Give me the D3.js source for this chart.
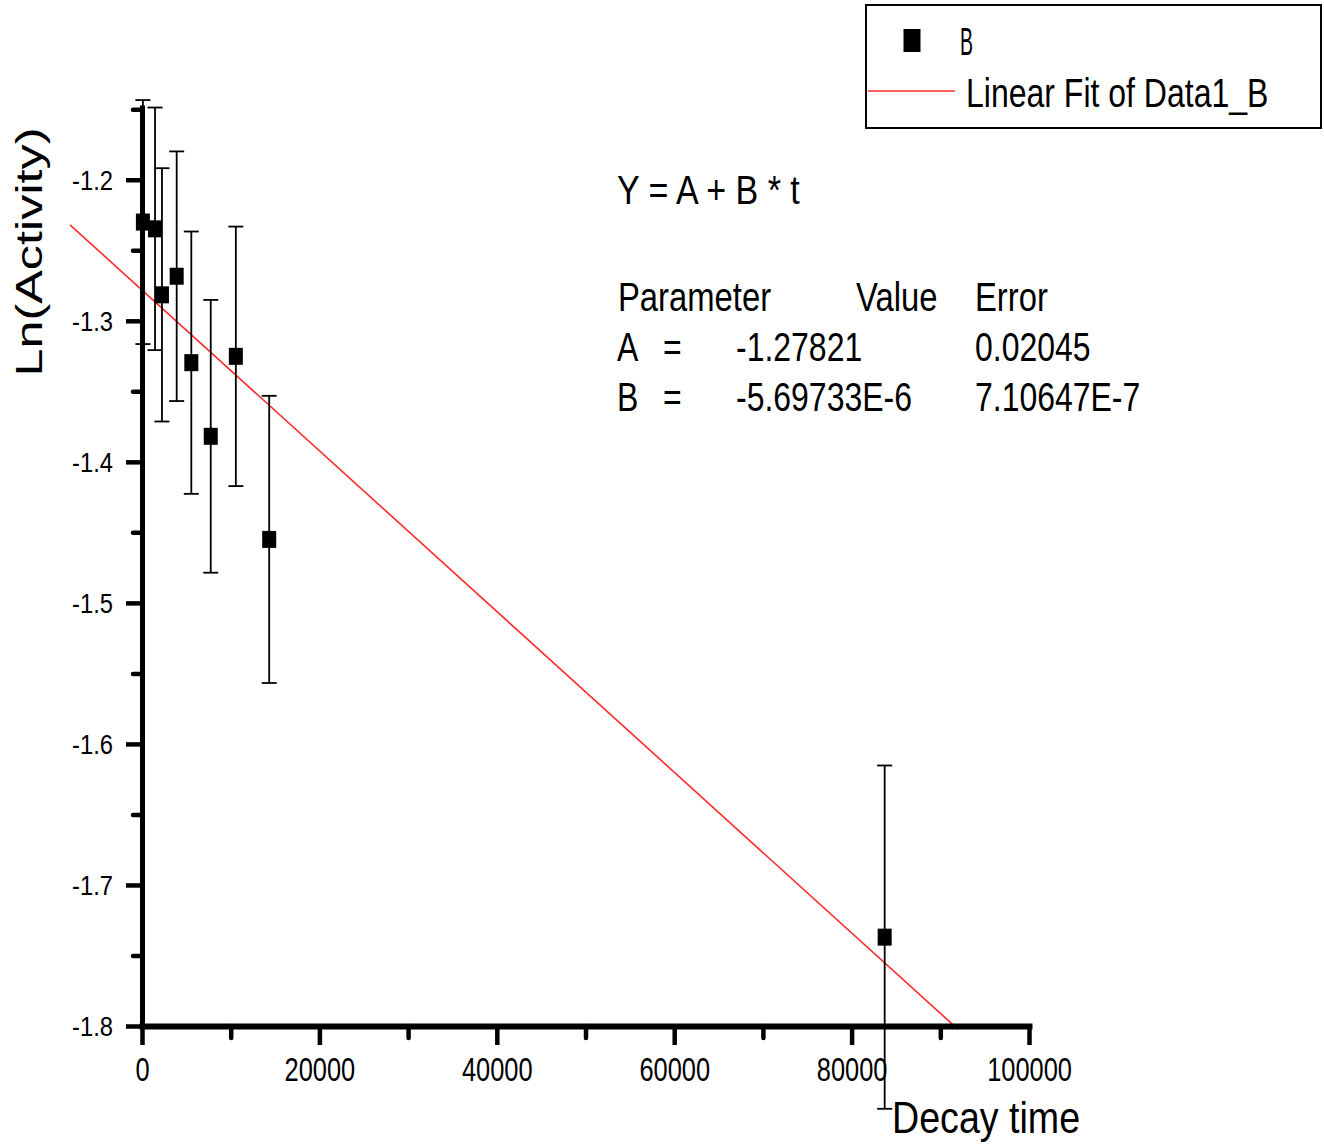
<!DOCTYPE html>
<html>
<head>
<meta charset="utf-8">
<script src="https://cdn.jsdelivr.net/npm/d3@7"></script>
<style>
  body { margin: 0; background: #fff; }
  svg { display: block; }
  text { font-family: "Liberation Sans", Arial, sans-serif; fill: #000; }
</style>
</head>
<body>
<svg id="chart" width="1324" height="1148"></svg>
<script>
// Measured decay series: time, ln(activity) and its uncertainty
const decayTime  = [100, 1470, 2250, 3910, 5560, 7750, 10580, 14340, 83730];
const lnActivity = [-1.2300, -1.2348, -1.2816, -1.2684, -1.3297, -1.3819, -1.3252, -1.4550, -1.7370];
const lnError    = [0.0865, 0.0860, 0.0898, 0.0885, 0.0930, 0.0967, 0.0920, 0.1018, 0.1217];

// Linear fit Y = A + B * t
const fitA = -1.27821;
const fitB = -5.69733E-6;
const fitRange = [-8120, 92000];

// Axis ticks
const xTickValues = [0, 20000, 40000, 60000, 80000, 100000];
const xMinorTicks = [10000, 30000, 50000, 70000, 90000];
const yTickValues = [-1.2, -1.3, -1.4, -1.5, -1.6, -1.7, -1.8];
const yTickLabels = ["-1.2", "-1.3", "-1.4", "-1.5", "-1.6", "-1.7", "-1.8"];
const yMinorTicks = [-1.15, -1.25, -1.35, -1.45, -1.55, -1.65, -1.75];

// Fit summary table
const equationText = "Y = A + B * t";
const paramHeader = ["Parameter", "Value", "Error"];
const paramRows = [
  ["A", "=", "-1.27821", "0.02045"],
  ["B", "=", "-5.69733E-6", "7.10647E-7"]
];
const legendLabels = ["B", "Linear Fit of Data1_B"];
const xTitle = "Decay time";
const yTitle = "Ln(Activity)";

const svg = d3.select("#chart");

const x = d3.scaleLinear().domain([0, 100000]).range([142, 1029]);
const y = d3.scaleLinear().domain([-1.8, -1.147]).range([1026, 105]);

// Condensed text helper: horizontal squeeze via scale
function label(g, str, tx, ty, size, sx, anchor) {
  return g.append("text")
    .attr("transform", `translate(${tx},${ty}) scale(${sx},1)`)
    .attr("font-size", size)
    .attr("text-anchor", anchor || "start")
    .text(str);
}

// ---- Fit line (drawn under the markers)
const fitLine = d3.line().x(d => x(d)).y(d => y(fitA + fitB * d));
svg.append("path")
  .attr("d", fitLine(fitRange))
  .attr("fill", "none")
  .attr("stroke", "#ff2a2a")
  .attr("stroke-width", 1.6);

// ---- Axes
const xAxisG = svg.append("g").attr("transform", `translate(0,${y(-1.8)})`);
xAxisG.call(d3.axisBottom(x).tickValues(xTickValues).tickSize(19).tickSizeOuter(0)
  .tickFormat(d3.format("d")));
xAxisG.select(".domain").attr("stroke-width", 6).attr("stroke-linecap", "square");
xAxisG.selectAll(".tick line").attr("stroke-width", 4.5);
xAxisG.selectAll(".tick text")
  .attr("y", 0).attr("dy", null)
  .attr("font-size", 33).attr("font-family", null)
  .attr("fill", "#000")
  .attr("transform", "translate(0,55) scale(0.77,1)");

const xMinorG = svg.append("g").attr("transform", `translate(0,${y(-1.8)})`);
xMinorG.call(d3.axisBottom(x).tickValues(xMinorTicks).tickSize(12).tickFormat(""));
xMinorG.select(".domain").remove();
xMinorG.selectAll(".tick line").attr("stroke-width", 4.5).attr("stroke-linecap", "round");

const yAxisG = svg.append("g").attr("transform", `translate(${x(0)},0)`);
yAxisG.call(d3.axisLeft(y).tickValues(yTickValues).tickSize(16).tickSizeOuter(0)
  .tickFormat((d, i) => yTickLabels[i]));
yAxisG.select(".domain").attr("stroke-width", 5);
yAxisG.selectAll(".tick line").attr("stroke-width", 4.5);
yAxisG.selectAll(".tick text")
  .attr("x", 0).attr("dy", null)
  .attr("font-size", 27).attr("font-family", null)
  .attr("fill", "#000")
  .attr("transform", "translate(-29,9.5) scale(0.88,1)");

const yMinorG = svg.append("g").attr("transform", `translate(${x(0)},0)`);
yMinorG.call(d3.axisLeft(y).tickValues(yMinorTicks).tickSize(9).tickFormat(""));
yMinorG.select(".domain").remove();
yMinorG.selectAll(".tick line").attr("stroke-width", 4.5).attr("stroke-linecap", "round");

// ---- Error bars and markers
const pts = decayTime.map((t, i) => ({ t, v: lnActivity[i], e: lnError[i] }));
const capW = 15;
const eb = svg.append("g").attr("stroke", "#000");
eb.selectAll("line.stem").data(pts).join("line")
  .attr("class", "stem")
  .attr("x1", d => x(d.t)).attr("x2", d => x(d.t))
  .attr("y1", d => y(d.v + d.e)).attr("y2", d => y(d.v - d.e))
  .attr("stroke-width", 1.8);
eb.selectAll("line.capTop").data(pts).join("line")
  .attr("class", "capTop")
  .attr("x1", d => x(d.t) - capW / 2).attr("x2", d => x(d.t) + capW / 2)
  .attr("y1", d => y(d.v + d.e)).attr("y2", d => y(d.v + d.e))
  .attr("stroke-width", 1.8);
eb.selectAll("line.capBot").data(pts).join("line")
  .attr("class", "capBot")
  .attr("x1", d => x(d.t) - capW / 2).attr("x2", d => x(d.t) + capW / 2)
  .attr("y1", d => y(d.v - d.e)).attr("y2", d => y(d.v - d.e))
  .attr("stroke-width", 1.8);

const mw = 14, mh = 17;
svg.append("g").selectAll("rect").data(pts).join("rect")
  .attr("x", d => x(d.t) - mw / 2)
  .attr("y", d => y(d.v) - mh / 2)
  .attr("width", mw).attr("height", mh)
  .attr("fill", "#000");

// ---- Axis titles
label(svg, xTitle, 892, 1133, 44, 0.855);
svg.append("text")
  .attr("transform", "translate(42,252) rotate(-90) scale(1.4,1)")
  .attr("font-size", 36)
  .attr("text-anchor", "middle")
  .text(yTitle);

// ---- Fit summary
const info = svg.append("g");
label(info, equationText, 617, 204, 41, 0.83);
const headerX = [618, 856, 975];
paramHeader.forEach((h, i) => label(info, h, headerX[i], 311, 41, 0.8));
const colX = [617, 663, 736, 975];
const rowY = [361, 411];
paramRows.forEach((row, r) => {
  row.forEach((cell, c) => label(info, cell, colX[c], rowY[r], 41, 0.78));
});

// ---- Legend
const lg = svg.append("g");
lg.append("rect")
  .attr("x", 866).attr("y", 5).attr("width", 455).attr("height", 123)
  .attr("fill", "#fff").attr("stroke", "#000").attr("stroke-width", 2);
lg.append("rect")
  .attr("x", 903.5).attr("y", 29).attr("width", 17).attr("height", 23)
  .attr("fill", "#000");
label(lg, legendLabels[0], 960, 55, 39, 0.5);
lg.append("line")
  .attr("x1", 868).attr("x2", 955).attr("y1", 91).attr("y2", 91)
  .attr("stroke", "#ff2a2a").attr("stroke-width", 1.6);
label(lg, legendLabels[1], 966, 107, 40, 0.8);
</script>
</body>
</html>
